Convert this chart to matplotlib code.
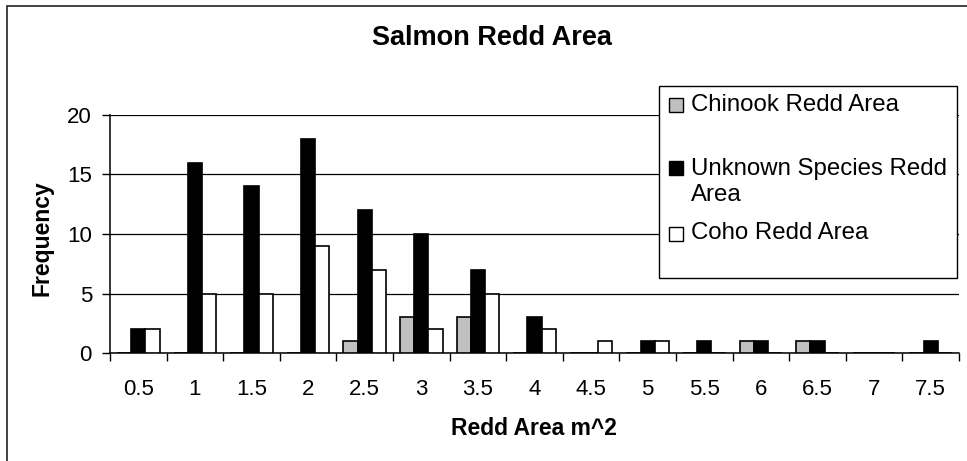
import matplotlib
matplotlib.use("Agg")
import matplotlib.pyplot as plt
from matplotlib.patches import Rectangle
import numpy as np

plt.rcParams['font.family'] = ['Liberation Sans', 'DejaVu Sans']

# redd area bins (m^2) and counts per species
areas = ['0.5', '1', '1.5', '2', '2.5', '3', '3.5', '4', '4.5', '5', '5.5', '6', '6.5', '7', '7.5']
chinook = [0, 0, 0, 0, 1, 3, 3, 0, 0, 0, 0, 1, 1, 0, 0]
unknown = [2, 16, 14, 18, 12, 10, 7, 3, 0, 1, 1, 1, 1, 0, 1]
coho = [2, 5, 5, 9, 7, 2, 5, 2, 1, 1, 0, 0, 0, 0, 0]

series_names = ['Chinook Redd Area', 'Unknown Species Redd\nArea', 'Coho Redd Area']
series_colors = ['#c0c0c0', 'black', 'white']

W, H = 967, 461
fig = plt.figure(figsize=(W / 100, H / 100), dpi=100)
ax = fig.add_axes([110 / W, 1 - 353 / H, (959 - 110) / W, (353 - 115) / H])

x = np.arange(len(areas))
bw = 0.25
for off, vals, col in zip((-bw, 0, bw), (chinook, unknown, coho), series_colors):
    ax.bar(x + off, vals, bw, color=col, edgecolor='black', linewidth=1.2, zorder=3)

ax.set_xlim(-0.5, len(areas) - 0.5)
ax.set_ylim(0, 20)
ax.set_yticks([0, 5, 10, 15, 20])
ax.yaxis.grid(True, color='black', linewidth=0.9)
ax.set_axisbelow(True)

# labels at category centres, tick marks on category boundaries
ax.set_xticks(x)
ax.set_xticklabels(areas)
ax.set_xticks(np.arange(len(areas) + 1) - 0.5, minor=True)
ax.tick_params(axis='x', which='major', length=0, pad=19, labelsize=16)
ax.tick_params(axis='x', which='minor', length=6, width=1, direction='out')
ax.tick_params(axis='y', length=6, width=1, direction='out', pad=7, labelsize=16)

for s in ('top', 'right'):
    ax.spines[s].set_visible(False)
for s in ('left', 'bottom'):
    ax.spines[s].set_linewidth(1.1)

# outer chart frame (cut at right and bottom)
fig.add_artist(Rectangle((7 / W, -0.2), 1.2, 1 - 6 / H + 0.2, transform=fig.transFigure,
                         fill=False, edgecolor='#222222', linewidth=1.2, clip_on=False))

fig.text(492 / W, 1 - 38 / H, 'Salmon Redd Area', ha='center', va='center',
         fontsize=19.5, fontweight='bold')
fig.text(42 / W, 1 - 238 / H, 'Frequency', ha='center', va='center', rotation=90,
         fontsize=16.5, fontweight='bold')
fig.text(534 / W, 1 - 428 / H, 'Redd Area m^2', ha='center', va='center',
         fontsize=16.5, fontweight='bold')

# legend box
fig.add_artist(Rectangle((659 / W, 1 - 278 / H), (957 - 659) / W, (278 - 86) / H,
                         transform=fig.transFigure, facecolor='white', edgecolor='black',
                         linewidth=1.0, zorder=5))
sq_y = [105, 168, 234]
txt_y = [105, 182, 233]
for name, col, sy, ty in zip(series_names, series_colors, sq_y, txt_y):
    fig.add_artist(Rectangle((669 / W, 1 - (sy + 7) / H), 14 / W, 14 / H,
                             transform=fig.transFigure, facecolor=col, edgecolor='black',
                             linewidth=1.0, zorder=6))
    fig.text(691 / W, 1 - ty / H, name, ha='left', va='center', fontsize=17.3,
             linespacing=1.2, zorder=6)

fig.savefig('out.png', dpi=100)
